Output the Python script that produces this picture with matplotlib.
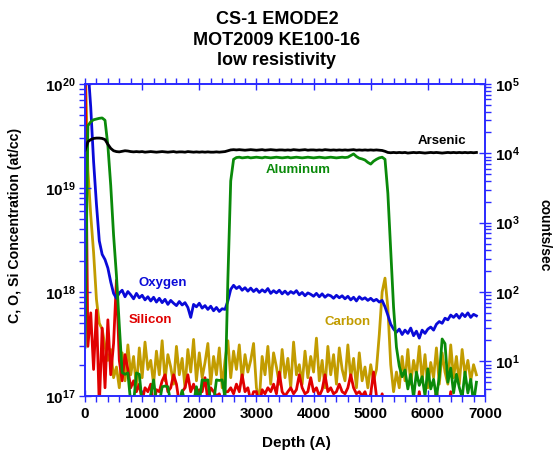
import numpy as np
import matplotlib
matplotlib.use('Agg')
import matplotlib.pyplot as plt
from matplotlib.ticker import LogLocator, MultipleLocator, FuncFormatter, NullFormatter

plt.rcParams['font.family'] = 'Liberation Sans'
plt.rcParams['font.weight'] = 'bold'
plt.rcParams['mathtext.fontset'] = 'custom'
plt.rcParams['mathtext.bf'] = 'Liberation Sans:bold'
plt.rcParams['mathtext.rm'] = 'Liberation Sans:bold'

# sputter depth (A), one reading every 50 A
depth = np.arange(0, 6851, 50)

# concentrations in units of 1e17 at/cc (left axis)
oxygen_e17 = [
    2000, 1500, 600, 180, 70, 31, 23, 20.5, 17, 12.5,
    9.7, 8.7, 9.8, 10.4, 9.0, 10.1, 9.4, 8.6, 9.7, 8.8,
    9.3, 8.4, 9.0, 8.2, 8.9, 8.0, 8.7, 7.9, 8.5, 7.6,
    8.3, 7.8, 7.4, 8.1, 7.5, 7.9, 7.1, 5.7, 7.6, 7.2,
    7.8, 7.0, 7.4, 6.8, 7.3, 6.6, 7.1, 6.5, 6.9, 6.8,
    8.2, 10.6, 11.6, 10.8, 11.3, 10.4, 11.0, 10.2, 10.9, 10.1,
    10.7, 9.9, 10.5, 10.0, 10.8, 9.7, 10.3, 9.8, 10.4, 9.6,
    10.2, 9.5, 10.1, 9.7, 10.3, 9.4, 9.9, 9.2, 9.8, 9.5,
    9.1, 9.7, 9.0, 9.6, 8.9, 9.4, 9.2, 8.7, 9.3, 8.8,
    9.2, 8.6, 9.1, 8.4, 8.9, 8.2, 9.0, 8.5, 8.8, 8.3,
    8.7, 8.2, 8.5, 8.0, 8.3, 7.2, 6.0, 4.9, 4.4, 4.1,
    4.4, 3.9, 4.3, 4.0, 4.5, 3.8, 4.2, 3.6, 4.3, 4.0,
    4.4, 4.6, 4.3, 4.9, 5.2, 5.0, 5.6, 5.4, 6.0, 5.7,
    6.1, 5.6, 6.2, 5.8, 6.3, 5.7, 6.1, 5.9,
]

carbon_e17 = [
    2000, 150, 55, 24, 8.5, 5.0, 4.4, 3.0, 2.2, 2.8,
    1.5, 1.9, 1.2, 2.6, 1.4, 3.1, 1.6, 2.4, 1.2, 2.9,
    1.5, 3.3, 1.8, 2.2, 1.3, 2.7, 1.6, 3.4, 1.4, 2.5,
    1.9, 1.3, 3.0, 1.6, 2.3, 1.2, 2.8, 1.7, 3.5, 1.4,
    2.6, 1.5, 2.1, 3.2, 1.3, 2.4, 1.6, 2.9, 1.2, 2.2,
    3.4, 1.5, 2.7, 1.8, 3.1, 1.4, 2.5, 1.7, 2.2, 3.2,
    1.2, 0.9, 2.4, 1.6, 3.0, 1.3, 2.6, 1.9, 1.3, 2.8,
    1.5, 2.3, 1.2, 3.3, 1.6, 2.0, 1.3, 2.7, 1.5, 2.4,
    1.7, 3.6, 1.4, 2.2, 1.2, 3.0, 1.6, 2.5, 1.3, 2.9,
    1.8, 1.4, 3.1, 1.5, 2.3, 1.2, 2.6, 1.4, 1.9, 1.2,
    2.0, 1.4, 1.8, 3.9, 10.0, 13.6, 7.0, 2.0, 1.1, 1.7,
    1.2, 2.4, 1.4, 2.8, 1.3, 2.2, 1.6, 3.0, 1.4, 2.5,
    1.2, 2.1, 1.5, 2.9, 1.3, 2.6, 1.7, 1.3, 3.1, 1.5,
    2.4, 1.3, 2.8, 1.6, 2.2, 1.4, 2.0, 1.6,
]

silicon_e17 = [
    2000, 3.0, 6.3, 1.8, 6.7, 0.8, 4.5, 1.2, 5.4, 1.6,
    3.2, 13.0, 2.2, 1.4, 2.5, 1.8, 1.2, 1.4, 1.1, 1.3,
    0.9, 1.2, 1.1, 1.3, 0.8, 1.15, 1.1, 1.4, 1.6, 1.1,
    1.2, 1.6, 1.3, 0.85, 1.1, 1.2, 1.6, 1.1, 1.3, 1.05,
    1.15, 1.1, 1.5, 0.9, 1.2, 1.1, 1.0, 1.05, 0.85, 1.1,
    1.1, 1.2, 1.05, 1.3, 1.1, 1.6, 1.1, 1.2, 0.9, 1.1,
    1.1, 0.8, 1.15, 1.05, 1.2, 1.1, 1.3, 1.05, 1.7, 1.1,
    1.0, 1.1, 1.2, 1.05, 1.15, 1.6, 1.2, 1.05, 1.1, 1.5,
    1.1, 1.2, 1.0, 1.15, 1.6, 1.1, 1.2, 1.05, 1.1, 1.3,
    1.1, 1.05, 1.2, 1.6, 1.2, 1.05, 1.1, 1.0, 1.1, 0.9,
    1.05, 1.7, 1.0, 0.8, 1.05, 0.8, 0.7, 0.7, 0.7, 0.7,
    0.7, 0.7, 0.7, 0.7, 0.7, 0.7, 0.7, 1.1, 0.7, 0.7,
    0.7, 0.7, 0.7, 1.15, 0.7, 0.7, 0.7, 0.7, 1.1, 0.7,
    0.7, 0.7, 1.1, 0.7, 0.7, 0.7, 0.7, 0.7,
]

# raw signals in counts/sec (right axis)
aluminum_cps = [
    16, 25000, 28500, 30500, 31300, 32000, 32400, 30000, 13000, 3450,
    660, 174, 33, 6.9, 6.5, 6.8, 2.5, 2.5, 6.8, 6.5,
    2.5, 2.5, 2.5, 3.3, 5.4, 2.5, 2.5, 4.3, 4.4, 4.3,
    2.5, 2.5, 2.5, 2.5, 3.8, 2.5, 2.5, 2.5, 2.5, 4.3,
    2.5, 5.4, 5.3, 5.4, 2.5, 2.5, 5.4, 5.3, 5.4, 3.0,
    150, 4000, 8200, 8700, 8800, 8600, 8700, 8800, 8600, 8700,
    8800, 8700, 8600, 8800, 8700, 8600, 8700, 8800, 8700, 8600,
    8700, 8800, 8600, 8700, 8800, 8700, 8600, 8700, 8800, 8700,
    8600, 8700, 8800, 8700, 8600, 8700, 8800, 8700, 8600, 8700,
    8800, 8700, 8800, 9300, 9800, 9000, 8500, 8300, 8000, 7400,
    7000, 7700, 8200, 8600, 8800, 8200, 2650, 385, 60, 16,
    8.5, 6.0, 7.5, 4.0, 6.5, 3.0, 7.0, 4.5, 6.0, 3.2,
    7.8, 4.0, 5.5, 3.0, 6.0, 21, 18, 5.0, 8.0, 3.5,
    6.5, 4.2, 3.0, 7.0, 3.5, 5.5, 2.5, 5.0,
]

arsenic_cps = [
    11000, 14700, 15800, 16400, 16600, 16600, 16400, 15800, 13500, 11800,
    10900, 10600, 10500, 10700, 10900, 10800, 10600, 10500, 10600, 10500,
    10600, 10400, 10500, 10600, 10500, 10400, 10500, 10600, 10500, 10400,
    10500, 10600, 10400, 10500, 10500, 10400, 10600, 10500, 10400, 10500,
    10400, 10500, 10400, 10500, 10400, 10400, 10500, 10400, 10500, 10600,
    10900, 11200, 11300, 11200, 11300, 11200, 11100, 11200, 11300, 11200,
    11100, 11200, 11300, 11100, 11200, 11300, 11200, 11100, 11200, 11200,
    11100, 11200, 11100, 11300, 11200, 11100, 11200, 11300, 11100, 11200,
    11200, 11100, 11200, 11100, 11300, 11200, 11100, 11200, 11100, 11200,
    11100, 11200, 11100, 11200, 11300, 11100, 11200, 11100, 11200, 11100,
    11200, 11100, 11200, 11100, 11000, 10700, 10300, 10200, 10300, 10200,
    10300, 10200, 10300, 10100, 10200, 10300, 10200, 10300, 10200, 10100,
    10200, 10300, 10200, 10300, 10200, 10100, 10200, 10300, 10200, 10300,
    10200, 10300, 10200, 10300, 10200, 10300, 10200, 10300,
]

title_lines = ['CS-1 EMODE2', 'MOT2009 KE100-16', 'low resistivity']

AXIS_BLUE = '#2a2aff'
C_GOLD = '#c29c00'
SI_RED = '#e00000'
O_BLUE = '#0a0ad8'
AL_GREEN = '#0a8a0a'

fig = plt.figure(figsize=(5.56, 4.5), dpi=100)
ax = fig.add_axes([0.1529, 0.12, 0.7194, 0.6933])
ax2 = ax.twinx()

lw = 2.0
ax.plot(depth, np.array(carbon_e17) * 1e17, color=C_GOLD, lw=lw, zorder=1)
ax.plot(depth, np.array(silicon_e17) * 1e17, color=SI_RED, lw=lw, zorder=2)
ax.plot(depth, np.array(oxygen_e17) * 1e17, color=O_BLUE, lw=lw, zorder=3)
ax2.plot(depth, aluminum_cps, color=AL_GREEN, lw=lw, zorder=1)
ax2.plot(depth, arsenic_cps, color='black', lw=lw, zorder=2)

ax.set_xlim(0, 7000)
ax.set_yscale('log')
ax.set_ylim(1e17, 1e20)
ax2.set_yscale('log')
ax2.set_ylim(10 ** 0.5, 1e5)

pow_fmt = FuncFormatter(lambda v, pos: r'$\mathbf{10^{%d}}$' % round(np.log10(v)))
for a in (ax, ax2):
    a.yaxis.set_major_locator(LogLocator(base=10, numticks=10))
    a.yaxis.set_minor_locator(LogLocator(base=10, subs=np.arange(2, 10), numticks=20))
    a.yaxis.set_major_formatter(pow_fmt)
    a.yaxis.set_minor_formatter(NullFormatter())
    for s in a.spines.values():
        s.set_color(AXIS_BLUE)
        s.set_linewidth(1.2)

ax.xaxis.set_major_locator(MultipleLocator(1000))
ax.xaxis.set_minor_locator(MultipleLocator(200))

ax.tick_params(axis='x', which='major', direction='inout', length=8, width=1,
               color=AXIS_BLUE, top=True, labelsize=11, pad=4)
ax.tick_params(axis='x', which='minor', direction='out', length=4, width=1,
               color=AXIS_BLUE, top=True)
ax.tick_params(axis='y', which='major', direction='inout', length=8, width=1,
               color=AXIS_BLUE, labelsize=11, pad=3)
ax.tick_params(axis='y', which='minor', direction='out', length=4, width=1,
               color=AXIS_BLUE)
ax2.tick_params(axis='y', which='major', direction='inout', length=8, width=1,
                color=AXIS_BLUE, labelsize=11, pad=3)
ax2.tick_params(axis='y', which='minor', direction='out', length=4, width=1,
                color=AXIS_BLUE)

ax.set_xlabel('Depth (A)', fontsize=11, fontweight='bold')
ax.xaxis.set_label_coords(0.5275, -0.128)
ax.set_ylabel('C, O, Si Concentration (at/cc)', fontsize=10.2, fontweight='bold')
ax.yaxis.set_label_coords(-0.1575, 0.548)
ax2.set_ylabel('counts/sec', fontsize=10, fontweight='bold', rotation=270,
               va='bottom')
ax2.yaxis.set_label_coords(1.132, 0.514)

# element names next to their traces
labels = [
    ('Arsenic', 0.8925, 0.817, 'black'),
    ('Aluminum', 0.534, 0.724, AL_GREEN),
    ('Oxygen', 0.195, 0.362, O_BLUE),
    ('Silicon', 0.1625, 0.2436, SI_RED),
    ('Carbon', 0.6575, 0.237, C_GOLD),
]
for name, lx, ly, col in labels:
    ax2.text(lx, ly, name, transform=ax.transAxes, ha='center', va='center',
             color=col, fontsize=9.5, fontweight='bold', zorder=5)

fig.text(0.498, 0.911, '\n'.join(title_lines), ha='center', va='center',
         fontsize=13, fontweight='bold', linespacing=1.3)

fig.savefig('out.png', dpi=100)
